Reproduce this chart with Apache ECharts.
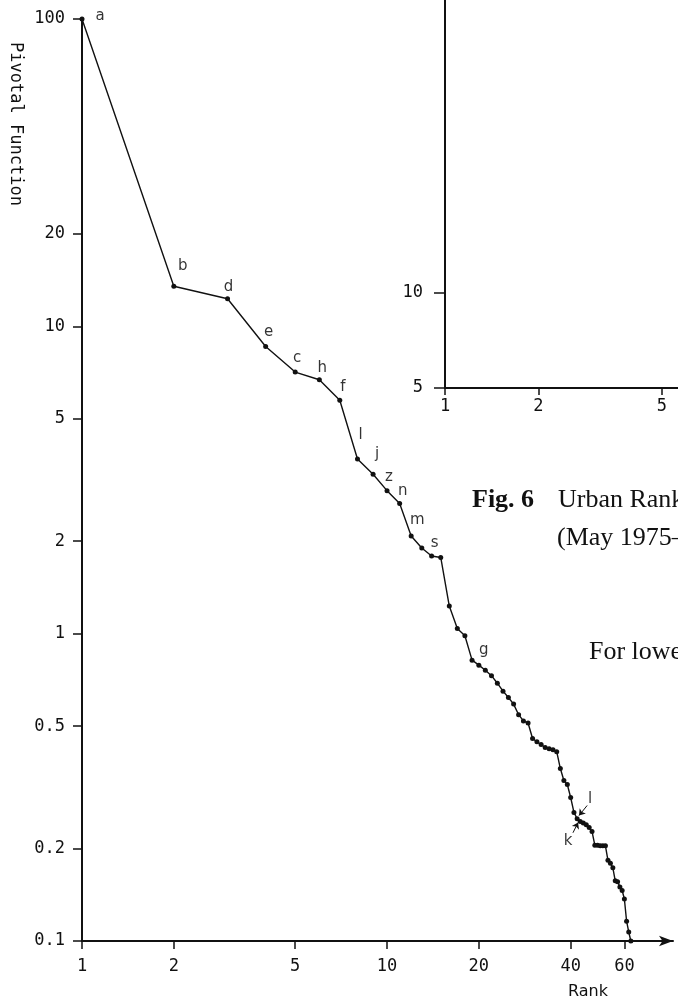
<!DOCTYPE html>
<html><head><meta charset="utf-8">
<script src="https://cdn.jsdelivr.net/npm/echarts@6/dist/echarts.min.js"></script>
<style>html,body{margin:0;padding:0;background:#fff}#c{width:678px;height:1004px}</style>
</head><body><div id="c"></div>
<script>
// ---- data ----
const ranks = [1,2,3,4,5,6,7,8,9,10,11,12,13,14,15,16,17,18,19,20,21,22,23,24,25,26,27,28,29,30,31,32,33,34,35,36,37,38,39,40,41,42,43,44,45,46,47,48,49,50,51,52,53,54,55,56,57,58,59,60,61,62,63];
const pivotal = [100,13.5,12.3,8.6,7.1,6.7,5.75,3.7,3.3,2.92,2.65,2.08,1.90,1.79,1.77,1.23,1.04,0.985,0.82,0.79,0.76,0.73,0.69,0.65,0.62,0.59,0.545,0.52,0.512,0.456,0.445,0.436,0.426,0.422,0.419,0.413,0.364,0.333,0.323,0.293,0.262,0.250,0.245,0.242,0.239,0.234,0.227,0.205,0.205,0.204,0.204,0.204,0.183,0.179,0.173,0.157,0.156,0.150,0.146,0.137,0.116,0.107,0.1];
const xTicks = [1,2,5,10,20,40,60];
const yTicks = [0.1,0.2,0.5,1,2,5,10,20,100];
const insetXTicks = [1,2,5];
const insetYTicks = [5,10];
const cityLabels = ['a','b','d','e','c','h','f','l','j','z','n','m','s','g','l','k'];
const cityRanks  = [1,2,3,4,5,6,7,8,9,10,11,12,15,20,42,42];

// ---- layout (label offsets in px) ----
const labelOffsets = [[18,-3],[9,-20],[1,-12],[3,-14],[2,-14],[3,-12],[3,-13],[3,-24],[4,-20],[2,-14],[3,-12],[6,-16],[-6,-14],[5,-15],[13,-20],[-9,22]];

const ink = '#111';
const mono = 'DejaVu Sans Mono';

const chart = echarts.init(document.getElementById('c'), null, {renderer:'canvas'});
chart.setOption({
  animation: false,
  backgroundColor: '#fff',
  grid: [
    {left: 82, right: 5, top: 19, bottom: 63},
    {left: 445, right: 0, top: 0, bottom: 616}
  ],
  xAxis: [
    {type:'log', logBase:10, gridIndex:0, min:1, max:86.6,
     axisLine:{show:true, onZero:false, symbol:['none','arrow'], symbolSize:[8,14], lineStyle:{color:ink, width:2}},
     axisTick:{show:true, length:8, customValues:xTicks, lineStyle:{color:ink, width:1.5}},
     axisLabel:{show:true, customValues:xTicks, margin:17, fontFamily:mono, fontSize:17, color:ink},
     splitLine:{show:false}, minorTick:{show:false}},
    {type:'log', logBase:10, gridIndex:1, min:1, max:5.64,
     axisLine:{show:true, onZero:false, lineStyle:{color:ink, width:2}},
     axisTick:{show:true, length:7, customValues:insetXTicks, lineStyle:{color:ink, width:1.5}},
     axisLabel:{show:true, customValues:insetXTicks, margin:10, fontFamily:mono, fontSize:17, color:ink},
     splitLine:{show:false}}
  ],
  yAxis: [
    {type:'log', logBase:10, gridIndex:0, min:0.1, max:100,
     axisLine:{show:true, onZero:false, lineStyle:{color:ink, width:2}},
     axisTick:{show:true, length:9, customValues:yTicks, lineStyle:{color:ink, width:1.5}},
     axisLabel:{show:true, customValues:yTicks, margin:17, fontFamily:mono, fontSize:17, color:ink},
     splitLine:{show:false}},
    {type:'log', logBase:10, gridIndex:1, min:5, max:85,
     axisLine:{show:true, onZero:false, lineStyle:{color:ink, width:2}},
     axisTick:{show:true, length:11, customValues:insetYTicks, lineStyle:{color:ink, width:1.5}},
     axisLabel:{show:true, customValues:insetYTicks, margin:22, fontFamily:mono, fontSize:17, color:ink},
     splitLine:{show:false}}
  ],
  series: [
    {type:'line', xAxisIndex:0, yAxisIndex:0, silent:true,
     data: ranks.map((r,i)=>[r, pivotal[i]]),
     symbol:'circle', symbolSize:5, showSymbol:true,
     lineStyle:{color:ink, width:1.4}, itemStyle:{color:ink}},
    {type:'scatter', xAxisIndex:0, yAxisIndex:0, silent:true,
     symbolSize:1, itemStyle:{color:'rgba(0,0,0,0)'},
     label:{show:true, position:'inside', color:'#000', fontFamily:'DejaVu Sans', fontSize:15},
     data: cityRanks.map((r,i)=>({
        value:[r, pivotal[ranks.indexOf(r)]],
        label:{formatter:cityLabels[i], offset:labelOffsets[i]}
     })),
     markLine:{silent:true, symbol:['none','arrow'], symbolSize:6, label:{show:false},
       lineStyle:{color:ink, width:1, type:'solid'},
       data:[
         [{coord:[45.3,0.276]},{coord:[42.6,0.256]}],
         [{coord:[40.7,0.225]},{coord:[42.3,0.243]}]
       ]}
    },
    {type:'line', xAxisIndex:1, yAxisIndex:1, data:[], silent:true}
  ],
  graphic: [
    {type:'text', x:15, y:124, rotation:-Math.PI/2,
     style:{text:'Pivotal Function', fill:ink, font:'17px "DejaVu Sans Mono"', align:'center', verticalAlign:'middle'}},
    {type:'text', x:588, y:992,
     style:{text:'Rank', fill:ink, font:'16px "DejaVu Sans"', align:'center', verticalAlign:'middle'}},
    {type:'text', x:472, y:487,
     style:{text:'Fig. 6', fill:ink, font:'bold 26px "Liberation Serif"', align:'left', verticalAlign:'alphabetic'}},
    {type:'text', x:558, y:487,
     style:{text:'Urban Rank', fill:ink, font:'26px "Liberation Serif"', align:'left', verticalAlign:'alphabetic'}},
    {type:'text', x:557, y:525,
     style:{text:'(May 1975–', fill:ink, font:'26px "Liberation Serif"', align:'left', verticalAlign:'alphabetic'}},
    {type:'text', x:589, y:639,
     style:{text:'For lower', fill:ink, font:'26px "Liberation Serif"', align:'left', verticalAlign:'alphabetic'}}
  ]
});
</script></body></html>
